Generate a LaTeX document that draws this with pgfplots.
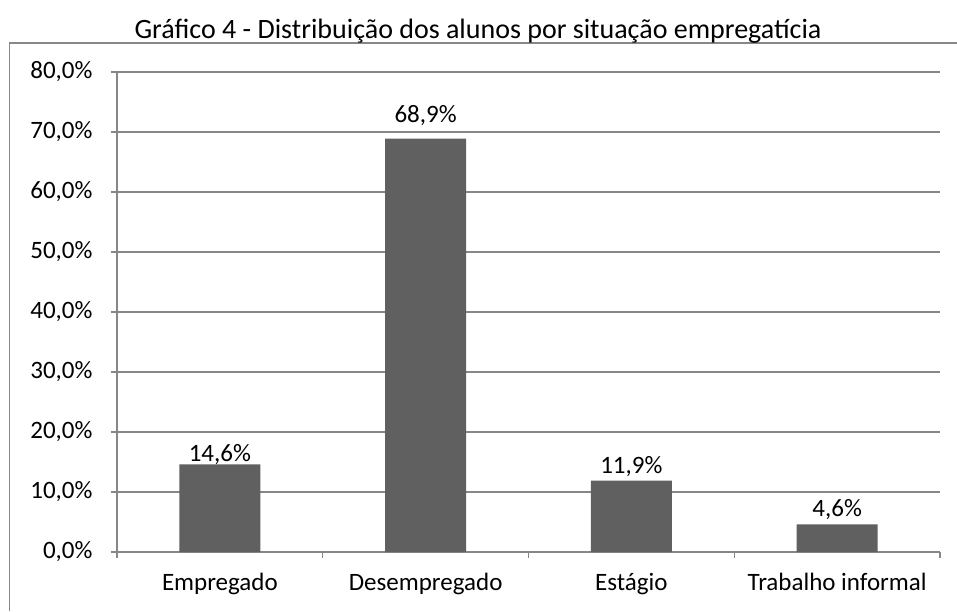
\documentclass[border=0pt]{standalone}
\usepackage{fontspec}
\setmainfont{Carlito}
\usepackage{pgfplots}
\pgfplotsset{compat=1.18}
\definecolor{barc}{HTML}{606060}
\definecolor{gridc}{HTML}{878787}
\pgfplotstableread{
x y off
0 14.6 3
1 68.9 16
2 11.9 7
3 4.6 8
}\datatab
\begin{document}
\begin{tikzpicture}
\path[use as bounding box] (0pt,0pt) rectangle (957pt,611pt);
\draw[gridc, line width=1.3pt] (9.5pt,0pt) -- (9.5pt,568pt) -- (957pt,568pt);
\node[font=\fontsize{28}{32}\selectfont, inner sep=0pt] at (478pt,580pt) {Gráfico 4 - Distribuição dos alunos por situação empregatícia};
\begin{axis}[
  at={(117pt,59pt)}, anchor=south west,
  width=823pt, height=480pt, scale only axis,
  xmin=-0.5, xmax=3.5, ymin=0, ymax=80,
  ytick={0,10,...,80},
  xtick={0,1,2,3},
  xticklabels={Empregado,Desempregado,Estágio,Trabalho informal},
  minor xtick={-0.5,0.5,1.5,2.5,3.5},
  major x tick style={draw=none},
  tick align=outside,
  major tick length=6pt, minor tick length=6pt,
  axis lines*=left,
  axis line style={gridc, line width=1.3pt},
  every tick/.style={gridc, line width=1.3pt},
  ymajorgrids,
  major grid style={gridc, line width=1.3pt},
  yticklabel={\pgfmathprintnumber[fixed,fixed zerofill,precision=1,use comma]{\tick}\%},
  /pgf/number format/assume math mode=true,
  tick label style={font=\fontsize{25}{30}\selectfont, black},
  yticklabel style={xshift=-15pt},
  xticklabel style={yshift=-12pt},
  ybar, bar width=81pt,
  visualization depends on={\thisrow{off} \as \off},
  nodes near coords={\pgfmathprintnumber[fixed,fixed zerofill,precision=1,use comma]{\pgfplotspointmeta}\%},
  nodes near coords style={font=\fontsize{25}{30}\selectfont, black, inner sep=0pt, anchor=base, yshift=\off pt},
]
\addplot[fill=barc, draw=none] table[x=x, y=y] {\datatab};
\end{axis}
\end{tikzpicture}
\end{document}
